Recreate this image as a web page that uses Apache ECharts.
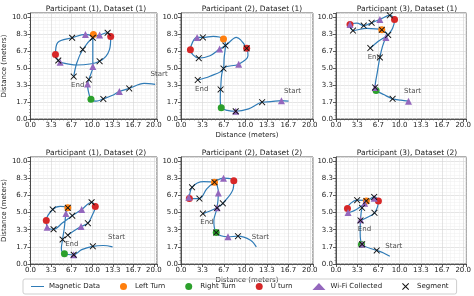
<!DOCTYPE html>
<html>
<head>
<meta charset="utf-8">
<script src="https://cdn.jsdelivr.net/npm/echarts@6/dist/echarts.min.js"></script>
<style>
html, body { margin: 0; padding: 0; background: #fff; }
#main { width: 474px; height: 296px; }
</style>
</head>
<body>
<div id="main"></div>
<script>
// tick steps (matplotlib-like 0.0, 3.3, 6.7 ... and 0.0, 1.7, 3.3 ...)
const xStep = 20 / 6;
const yStep = 10 / 6;

const panelTitles = [
  "Participant (1), Dataset (1)", "Participant (2), Dataset (1)", "Participant (3), Dataset (1)",
  "Participant (1), Dataset (2)", "Participant (2), Dataset (2)", "Participant (3), Dataset (2)"
];

// ---- Participant (1), Dataset (1)
const path1 = [[20.2,3.4],[18.4,3.5],[16.0,3.0],[14.4,2.7],[13.2,2.3],[11.8,1.97],[10.7,1.75],[9.8,1.93],[9.35,2.8],[9.25,3.44],[9.45,3.87],[10.1,5.15],[10.1,7.97],[8.9,8.3],[6.75,7.97],[4.4,7.5],[4.05,6.33],[4.5,5.74],[4.8,5.57],[7.5,5.3],[11.2,5.67],[12.8,6.8],[13.0,8.1],[12.5,8.46],[11.2,8.23],[10.1,8.0],[8.47,6.82],[7.5,5.5],[7.0,4.16]];
const left1 = [[10.2,8.3]];
const right1 = [[9.8,1.93]];
const uturn1 = [[4.05,6.33],[13.0,8.1]];
const wifi1 = [[14.4,2.7],[9.25,3.44],[10.1,5.15],[8.9,8.3],[11.2,8.23],[4.8,5.57]];
const seg1 = [[16.0,3.0],[11.8,1.97],[9.45,3.87],[7.0,4.16],[11.2,5.67],[8.47,6.82],[6.75,7.97],[10.1,7.97],[12.5,8.46],[4.5,5.74]];

// ---- Participant (2), Dataset (1)
const path2 = [[16.7,1.75],[15.6,1.8],[14.0,1.7],[12.6,1.65],[10.5,1.0],[8.5,0.76],[7.2,0.85],[6.25,1.1],[6.1,2.0],[6.15,2.9],[6.6,4.95],[8.96,5.38],[10.4,6.2],[10.2,6.93],[8.6,8.0],[6.9,7.2],[6.0,6.86],[4.5,6.2],[2.76,5.97],[1.46,6.8],[2.5,8.0],[3.4,8.0],[5.0,8.1],[6.6,7.85],[6.9,7.2],[6.7,6.0],[6.6,4.95],[4.5,4.2],[2.6,3.83]];
const left2 = [[6.6,7.85]];
const right2 = [[6.25,1.1]];
const uturn2 = [[1.46,6.8],[10.2,6.93]];
const wifi2 = [[15.6,1.8],[8.5,0.76],[8.96,5.38],[6.0,6.86],[2.5,8.0]];
const seg2 = [[12.6,1.65],[8.5,0.76],[6.15,2.9],[6.6,4.95],[6.9,7.2],[3.4,8.0],[2.76,5.97],[10.2,6.93],[2.6,3.83]];

// ---- Participant (3), Dataset (1)
const path3 = [[11.4,1.75],[10.2,1.85],[8.9,1.98],[7.5,2.4],[6.3,2.8],[6.15,3.1],[6.5,4.6],[6.9,6.04],[7.3,7.1],[7.85,8.0],[8.2,8.25],[8.9,8.9],[9.2,9.77],[8.46,10.17],[6.9,9.77],[5.6,9.44],[4.36,9.17],[3.3,9.4],[2.2,9.27],[2.67,8.68],[4.8,8.9],[7.2,8.75],[8.0,8.3],[6.6,7.6],[5.4,6.96]];
const left3 = [[7.2,8.75]];
const right3 = [[6.3,2.8]];
const uturn3 = [[2.2,9.27],[9.2,9.77]];
const wifi3 = [[11.4,1.75],[6.15,3.1],[7.85,8.0],[6.9,9.77],[2.2,9.27]];
const seg3 = [[8.9,1.98],[6.15,3.1],[6.9,6.04],[5.4,6.96],[8.2,8.25],[7.2,8.75],[8.46,10.17],[5.6,9.44],[4.36,9.17],[2.67,8.68]];

// ---- Participant (1), Dataset (2)
const path4 = [[13.3,1.66],[11.8,1.8],[10.1,1.72],[8.3,1.4],[7.0,0.9],[5.5,1.0],[5.0,1.5],[5.2,2.38],[5.5,3.6],[5.74,4.9],[6.05,5.46],[4.8,5.6],[3.6,5.3],[2.56,4.24],[2.7,3.58],[3.74,3.38],[5.2,4.0],[6.77,4.7],[8.3,5.3],[9.9,6.0],[10.5,5.6],[9.9,4.6],[9.3,3.97],[8.2,3.64],[7.0,3.2],[6.05,2.8]];
const left4 = [[6.05,5.46]];
const right4 = [[5.5,1.0]];
const uturn4 = [[2.56,4.24],[10.5,5.6]];
const wifi4 = [[7.0,0.9],[5.74,4.9],[8.3,5.3],[8.2,3.64],[2.7,3.58]];
const seg4 = [[10.1,1.72],[7.0,0.9],[5.2,2.38],[6.05,2.8],[3.74,3.38],[6.77,4.7],[9.3,3.97],[9.9,6.0],[3.6,5.3],[6.05,5.46]];

// ---- Participant (2), Dataset (2)
const path5 = [[11.7,1.66],[10.8,2.3],[8.85,2.7],[7.3,2.65],[5.47,3.05],[5.1,4.2],[5.6,5.46],[5.8,6.9],[5.2,7.95],[3.5,8.0],[1.72,7.45],[1.3,6.36],[2.86,6.36],[4.0,7.3],[5.2,7.95],[6.6,8.34],[8.2,8.1],[8.1,7.3],[6.5,5.9],[5.6,5.46],[3.4,4.9]];
const left5 = [[5.2,7.95]];
const right5 = [[5.47,3.05]];
const uturn5 = [[1.3,6.36],[8.2,8.1]];
const wifi5 = [[7.3,2.65],[5.6,5.46],[5.8,6.9],[6.6,8.34],[1.2,6.5]];
const seg5 = [[8.85,2.7],[5.47,3.05],[5.6,5.46],[6.5,5.9],[5.2,7.95],[1.72,7.45],[2.86,6.36],[3.4,4.9]];

// ---- Participant (3), Dataset (2)
const path6 = [[8.46,0.76],[7.4,1.1],[6.4,1.32],[4.1,1.92],[3.8,3.0],[3.85,4.24],[4.1,5.46],[4.77,6.13],[3.33,6.2],[1.8,5.4],[1.9,5.0],[3.2,5.3],[4.6,5.9],[6.0,6.52],[6.67,6.13],[6.05,4.97],[4.8,4.5],[3.85,4.24]];
const left6 = [[4.77,6.13]];
const right6 = [[4.0,1.9]];
const uturn6 = [[1.8,5.4],[6.67,6.13]];
const wifi6 = [[4.1,1.92],[3.85,4.3],[1.9,5.0],[4.5,5.9],[6.0,6.4]];
const seg6 = [[6.4,1.32],[4.1,1.92],[3.85,4.24],[4.1,5.46],[3.33,6.2],[6.0,6.52],[6.05,4.97],[4.77,6.13]];

const panels = [
  { path: path1, left: left1, right: right1, uturn: uturn1, wifi: wifi1, seg: seg1 },
  { path: path2, left: left2, right: right2, uturn: uturn2, wifi: wifi2, seg: seg2 },
  { path: path3, left: left3, right: right3, uturn: uturn3, wifi: wifi3, seg: seg3 },
  { path: path4, left: left4, right: right4, uturn: uturn4, wifi: wifi4, seg: seg4 },
  { path: path5, left: left5, right: right5, uturn: uturn5, wifi: wifi5, seg: seg5 },
  { path: path6, left: left6, right: right6, uturn: uturn6, wifi: wifi6, seg: seg6 }
];

const legendNames = ["Magnetic Data", "Left Turn", "Right Turn", "U turn", "Wi-Fi Collected", "Segment"];

// layout of the 6 axes boxes
const boxLeft = [25, 181, 336];
const boxTop = [13, 157];
const boxW = 132, boxH = 106;

const crossPath = "path://M0,1 L1,0 L5,4 L9,0 L10,1 L6,5 L10,9 L9,10 L5,6 L1,10 L0,9 L4,5 Z";
// thin horizontal line icon for the legend (tiny corner dots keep the box 20x10)
const lineIcon = "path://M0,0 L0.01,0 L0.01,0.01 Z M0,4.3 L20,4.3 L20,5.7 L0,5.7 Z M19.99,9.99 L20,10 L19.99,10 Z";
const font = "DejaVu Sans";
const txt = "#222";

function tickFmt(step) {
  return function (v) {
    const k = v / step;
    if (Math.abs(k - Math.round(k)) > 0.01) return "";
    return v.toFixed(1);
  };
}

let myChart = echarts.init(document.getElementById("main"), null, { renderer: "canvas" });

let grids = [], xAxes = [], yAxes = [], titles = [], series = [];

panels.forEach(function (p, i) {
  const col = i % 3, row = Math.floor(i / 3);
  grids.push({
    left: boxLeft[col], top: boxTop[row], width: boxW, height: row === 0 ? boxH : boxH + 1,
    show: true, borderColor: "#333", borderWidth: 0.8, backgroundColor: "#fff"
  });
  titles.push({
    text: panelTitles[i],
    left: boxLeft[col] + boxW / 2, top: row === 0 ? 0 : 144,
    textAlign: "center",
    textStyle: { fontFamily: font, fontSize: 7.5, fontWeight: "normal", color: txt }
  });
  xAxes.push({
    gridIndex: i, type: "value", min: 0, max: 20.5, interval: xStep,
    name: col === 1 ? "Distance (meters)" : "", nameLocation: "middle", nameGap: 13,
    nameTextStyle: { fontFamily: font, fontSize: 7, color: txt },
    axisLine: { show: true, onZero: false, lineStyle: { color: "#333", width: 0.8 } },
    axisTick: { show: true, length: 3, lineStyle: { color: "#333", width: 0.8 } },
    minorTick: { show: true, splitNumber: 5, length: 1.5, lineStyle: { color: "#555", width: 0.5 } },
    axisLabel: { fontFamily: font, fontSize: 7, color: txt, margin: 3, formatter: tickFmt(xStep), showMaxLabel: false },
    splitLine: { show: true, lineStyle: { color: "#d4d4d4", width: 0.6 } },
    minorSplitLine: { show: true, lineStyle: { color: "#eeeeee", width: 0.5 } }
  });
  yAxes.push({
    gridIndex: i, type: "value", min: 0, max: 10.4, interval: yStep,
    name: col === 0 ? "Distance (meters)" : "", nameLocation: "middle", nameGap: 18,
    nameTextStyle: { fontFamily: font, fontSize: 7, color: txt },
    axisLine: { show: true, onZero: false, lineStyle: { color: "#333", width: 0.8 } },
    axisTick: { show: true, length: 3, lineStyle: { color: "#333", width: 0.8 } },
    minorTick: { show: true, splitNumber: 5, length: 1.5, lineStyle: { color: "#555", width: 0.5 } },
    axisLabel: { fontFamily: font, fontSize: 7, color: txt, margin: 3, formatter: tickFmt(yStep), showMaxLabel: false },
    splitLine: { show: true, lineStyle: { color: "#d4d4d4", width: 0.6 } },
    minorSplitLine: { show: true, lineStyle: { color: "#eeeeee", width: 0.5 } }
  });

  series.push({
    name: "Magnetic Data", type: "line", xAxisIndex: i, yAxisIndex: i,
    data: p.path, smooth: 0.35, symbol: "none",
    lineStyle: { color: "#2f7bb6", width: 1.2 }, itemStyle: { color: "#2f7bb6" }, z: 2
  });
  const marks = [
    ["Left Turn", p.left, "circle", "#ff7f0e", 7],
    ["Right Turn", p.right, "circle", "#2ca02c", 7],
    ["U turn", p.uturn, "circle", "#d62728", 7],
    ["Wi-Fi Collected", p.wifi, "triangle", "#9467bd", 7],
    ["Segment", p.seg, crossPath, "#111", 6.5]
  ];
  marks.forEach(function (m, k) {
    series.push({
      name: m[0], type: "scatter", xAxisIndex: i, yAxisIndex: i,
      data: m[1], symbol: m[2], symbolSize: m[4],
      itemStyle: { color: m[3], opacity: 1 }, z: 3 + k
    });
  });
  // Start / End text at the ends of the path
  const lbl = { fontFamily: font, fontSize: 7, color: txt };
  series.push({
    type: "scatter", xAxisIndex: i, yAxisIndex: i, symbolSize: 1, silent: true,
    itemStyle: { color: "transparent" }, z: 10,
    data: [
      { value: p.path[0], label: Object.assign({ show: true, formatter: "Start", position: "top", offset: [4, -1] }, lbl) },
      { value: p.path[p.path.length - 1], label: Object.assign({ show: true, formatter: "End", position: "bottom", offset: [4, 0] }, lbl) }
    ]
  });
});

let option = {
  animation: false,
  backgroundColor: "#fff",
  title: titles,
  grid: grids,
  xAxis: xAxes,
  yAxis: yAxes,
  legend: {
    data: legendNames.map(function (n, k) {
      return k === 0 ? { name: n, icon: lineIcon, itemStyle: { color: "#2f7bb6" } } : n;
    }),
    left: 23, top: 279,
    itemWidth: 13, itemHeight: 7, itemGap: 20,
    padding: [4, 8, 4, 8],
    borderColor: "#cfcfcf", borderWidth: 1, borderRadius: 2,
    textStyle: { fontFamily: font, fontSize: 7, color: txt },
    selectedMode: false
  },
  series: series
};

option && myChart.setOption(option);
</script>
</body>
</html>
